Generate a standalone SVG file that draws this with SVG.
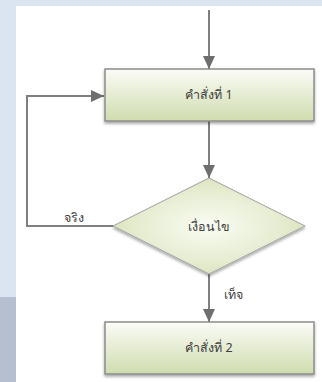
<svg xmlns="http://www.w3.org/2000/svg" width="322" height="382" viewBox="0 0 322 382">
<style>
.box{fill:url(#g);stroke:#8c8c8c;stroke-width:1.5}
.dia{fill:url(#gd);stroke:#a0a0a0;stroke-width:1}
.ln{fill:none;stroke:#7f7f7f;stroke-width:2}
.t{font-family:"Noto Sans","DejaVu Sans",sans-serif;font-size:12.5px;font-weight:normal;fill:#404040}
</style>
<defs>
<linearGradient id="g" x1="0" y1="0" x2="0" y2="1">
<stop offset="0" stop-color="#fbfcf7"/>
<stop offset="1" stop-color="#cfdcae"/>
</linearGradient>
<radialGradient id="gd" cx="0.5" cy="0.5" r="0.6">
<stop offset="0" stop-color="#fafcf3"/>
<stop offset="0.6" stop-color="#e6edd2"/>
<stop offset="1" stop-color="#d4e0b4"/>
</radialGradient>
<filter id="sh" x="-10%" y="-10%" width="120%" height="130%">
<feGaussianBlur in="SourceAlpha" stdDeviation="1.5"/>
<feOffset dx="0" dy="1.5"/>
<feComponentTransfer><feFuncA type="linear" slope="0.35"/></feComponentTransfer>
<feMerge><feMergeNode/><feMergeNode in="SourceGraphic"/></feMerge>
</filter>
<marker id="ahv" markerWidth="14" markerHeight="14" refX="13" refY="6" orient="auto" markerUnits="userSpaceOnUse">
<path d="M0,0 L13,6 L0,12 Z" fill="#6e6e6e"/>
</marker>
</defs>
<rect x="0" y="0" width="322" height="382" fill="#dbe5f1"/>
<rect x="0" y="297" width="16" height="85" fill="#b5bfcf"/>
<rect x="16" y="6" width="306" height="376" fill="#ffffff"/>
<g id="connectors">
<line class="ln" x1="209" y1="10" x2="209" y2="69" marker-end="url(#ahv)"/>
<line class="ln" x1="209" y1="121" x2="209" y2="178" marker-end="url(#ahv)"/>
<polyline class="ln" points="113,226 27,226 27,96 104,96" marker-end="url(#ahv)"/>
<line class="ln" x1="209" y1="274" x2="209" y2="322" marker-end="url(#ahv)"/>
<text class="t" x="74" y="222" text-anchor="middle">จริง</text>
<text class="t" x="233" y="299" text-anchor="middle">เท็จ</text>
</g>
<g id="n1">
<rect class="box" x="105" y="69" width="209" height="52" filter="url(#sh)"/>
<text class="t" x="209" y="99" text-anchor="middle">คำสั่งที่ 1</text>
</g>
<g id="n2">
<polygon class="dia" points="209,178 305,226 209,274 113,226" filter="url(#sh)"/>
<text class="t" x="209" y="231" text-anchor="middle">เงื่อนไข</text>
</g>
<g id="n3">
<rect class="box" x="105" y="322" width="209" height="52" filter="url(#sh)"/>
<text class="t" x="209" y="352" text-anchor="middle">คำสั่งที่ 2</text>
</g>
</svg>
